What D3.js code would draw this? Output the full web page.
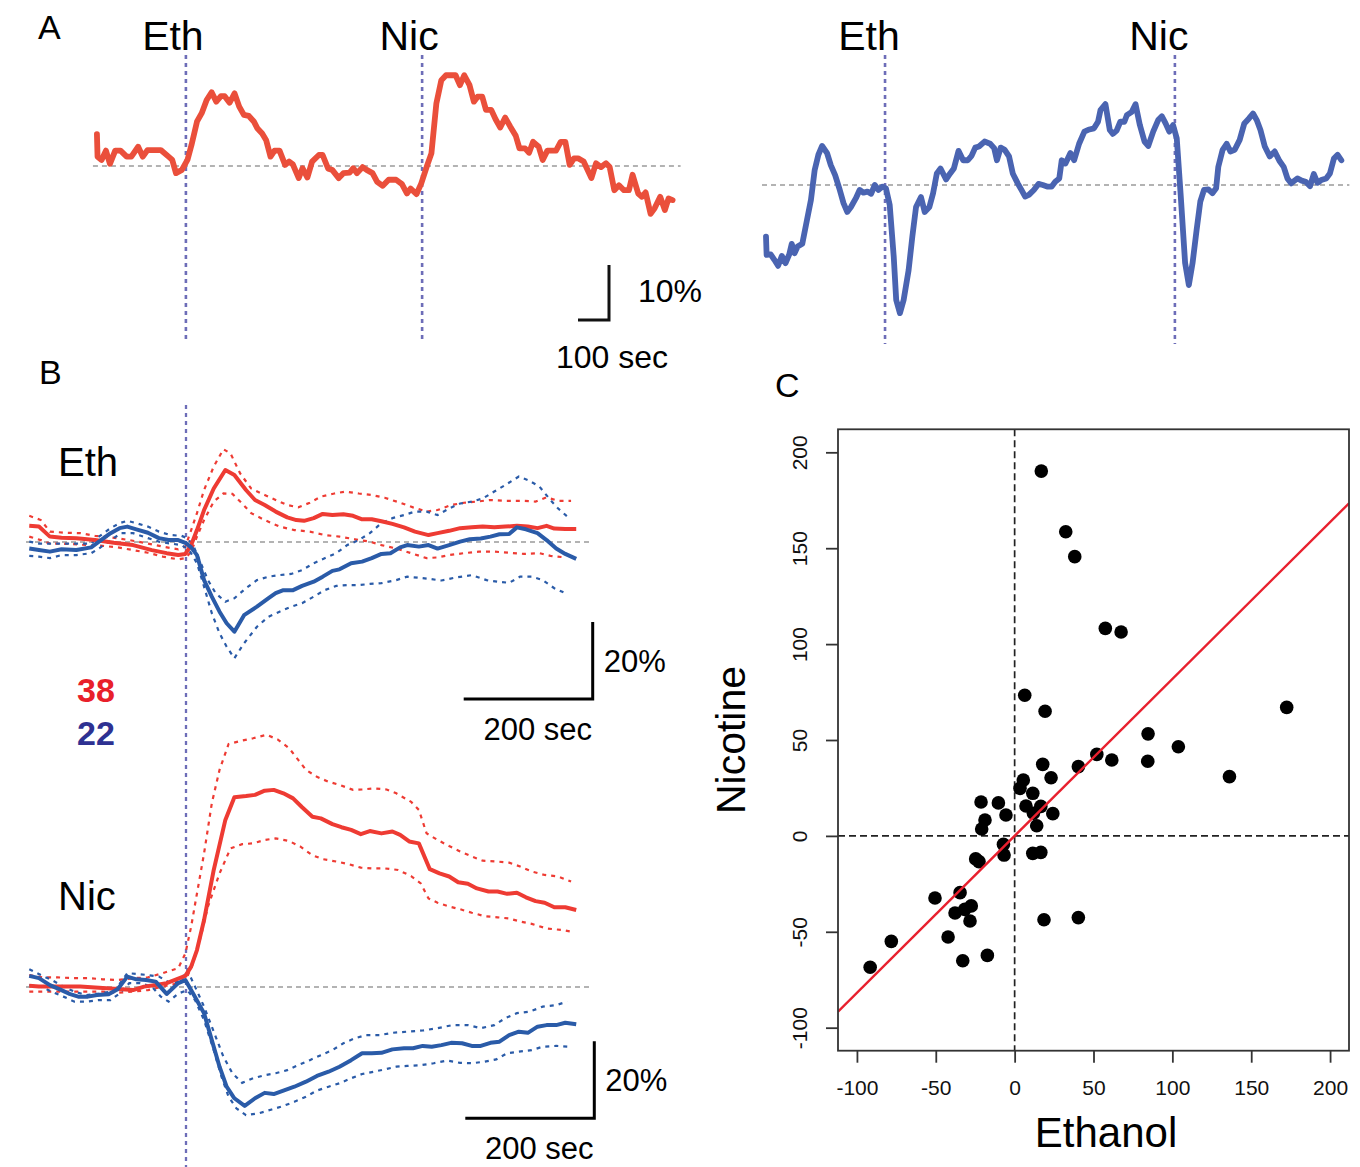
<!DOCTYPE html>
<html><head><meta charset="utf-8">
<script src="https://cdn.jsdelivr.net/npm/d3@7"></script>
<style>body{margin:0;background:#fff}svg{display:block}text{font-family:"Liberation Sans",Arial,Helvetica,sans-serif}</style>
</head><body>
<script>
// ---------- DATA ----------
// Panel A: single-cell traces, [time (s), % change]
const traceALeft = [[3,5.8],[5,1.7],[18,1.1],[32,2.8],[45,0.4],[62,2.8],[79,2.8],[99,1.7],[114,1.7],[136,3.5],[151,1.7],[166,2.9],[209,2.9],[234,1.7],[246,1.1],[258,-1.3],[277,-0.7],[295,1.1],[308,3.8],[326,8.1],[341,9.6],[357,12.0],[373,13.4],[388,11.7],[403,12.7],[415,12.7],[431,11.5],[447,13.2],[462,10.8],[477,9.3],[493,9.1],[509,8.1],[521,6.8],[536,5.9],[549,4.7],[563,1.7],[576,2.8],[592,2.8],[610,0.2],[623,0.8],[635,0.3],[654,-2.2],[666,-0.4],[682,-2.1],[697,0.8],[719,2.0],[731,2.0],[749,-0.5],[762,-0.7],[783,-2.2],[798,-1.3],[818,-1.2],[830,-0.4],[842,-1.3],[860,-0.2],[873,-0.7],[892,-1.3],[907,-2.9],[925,-3.6],[944,-2.5],[968,-2.5],[987,-3.3],[1003,-5.0],[1015,-4.1],[1034,-5.1],[1049,-3.2],[1067,-0.1],[1082,2.3],[1098,11.4],[1114,15.6],[1129,16.5],[1160,16.5],[1174,14.7],[1188,16.5],[1205,14.7],[1219,11.7],[1231,12.6],[1246,12.6],[1258,10.2],[1275,10.2],[1289,8.5],[1304,7.0],[1320,8.8],[1336,7.2],[1354,5.5],[1366,3.2],[1384,3.2],[1397,2.4],[1410,4.4],[1428,3.5],[1441,1.1],[1456,2.8],[1484,2.8],[1499,4.4],[1514,4.4],[1528,0.2],[1542,1.4],[1555,1.4],[1573,0.8],[1598,-2.2],[1613,0.5],[1629,-0.2],[1645,0.5],[1657,-0.2],[1672,-4.4],[1687,-3.5],[1703,-4.4],[1719,-4.4],[1731,-1.6],[1749,-5.0],[1761,-5.6],[1773,-4.8],[1789,-8.7],[1802,-7.7],[1820,-5.6],[1835,-8.0],[1847,-5.9],[1860,-6.2]];
const traceARight = [[0,-9.4],[2,-12.7],[15,-12.6],[27,-13.6],[39,-14.7],[51,-12.9],[63,-14.2],[75,-12.6],[83,-10.7],[92,-12.4],[102,-11.2],[117,-10.7],[132,-6.4],[145,-2.7],[157,2.7],[169,5.5],[181,7.1],[197,5.8],[209,3.6],[223,1.8],[238,-0.9],[250,-3.3],[262,-4.9],[274,-4.0],[290,-2.4],[302,-0.9],[314,-1.4],[327,-1.2],[339,-1.6],[351,0.0],[363,-0.9],[375,-0.3],[387,-0.6],[399,-3.6],[412,-13.0],[420,-20.9],[432,-23.3],[444,-20.9],[460,-15.5],[472,-9.4],[484,-4.0],[500,-2.2],[512,-4.9],[527,-4.0],[539,-1.5],[551,2.1],[563,3.0],[581,1.0],[594,2.1],[606,3.0],[621,6.2],[636,4.5],[651,4.5],[663,5.3],[675,6.8],[687,7.0],[705,7.9],[723,7.5],[736,6.7],[745,4.5],[757,6.8],[770,6.4],[784,5.2],[796,2.1],[812,0.3],[824,-0.9],[836,-2.1],[848,-1.8],[864,-0.9],[879,0.2],[893,0.0],[909,-0.3],[921,-0.3],[933,0.6],[946,1.2],[954,4.5],[966,3.9],[982,5.8],[994,4.5],[1010,7.5],[1027,9.7],[1043,10.1],[1058,10.3],[1071,11.5],[1079,13.6],[1095,14.7],[1109,10.0],[1119,9.3],[1131,9.9],[1143,11.5],[1156,11.5],[1164,12.7],[1180,13.3],[1192,14.7],[1206,10.9],[1221,7.9],[1233,7.1],[1249,9.7],[1265,11.8],[1277,12.5],[1289,11.2],[1301,9.7],[1313,10.9],[1325,8.5],[1338,-2.1],[1352,-14.2],[1364,-18.2],[1376,-14.2],[1389,-8.2],[1401,-3.0],[1413,-0.9],[1427,-0.8],[1440,-1.5],[1452,-0.6],[1459,3.3],[1473,6.4],[1486,7.5],[1498,6.1],[1512,6.4],[1528,8.2],[1543,11.2],[1558,12.1],[1571,13.0],[1583,11.8],[1595,10.0],[1609,7.0],[1625,5.2],[1641,6.1],[1656,4.4],[1670,3.3],[1682,1.2],[1694,0.3],[1714,1.2],[1728,0.8],[1741,0.6],[1755,-0.2],[1767,2.0],[1779,0.4],[1791,0.9],[1807,1.2],[1819,2.1],[1832,4.8],[1844,5.5],[1856,4.5]];
const drugLabels = ["Eth","Nic"];
const injectALeft = [290, 1052];   // s
const injectARight = [384, 1319];  // s

// Panel B: averaged responses, [time from drug (s), % change]; mean and mean±SEM
const ethRedMean = [[-243,4.2],[-228,4.0],[-211,1.4],[-193,1.1],[-170,1.0],[-141,0.5],[-112,-0.2],[-82,-0.8],[-53,-2.1],[-30,-2.9],[-12,-3.4],[-1,-3.1],[8,-0.8],[17,3.1],[28,8.3],[43,13.9],[61,18.7],[75,17.4],[93,13.5],[107,10.9],[122,9.6],[139,7.9],[157,6.4],[171,5.7],[183,5.5],[198,6.2],[212,7.3],[227,7.0],[244,7.2],[259,6.8],[273,5.9],[288,5.9],[303,5.4],[320,4.7],[338,3.8],[355,2.7],[376,1.8],[390,2.3],[408,2.9],[425,3.6],[443,3.8],[460,4.0],[478,3.8],[495,4.0],[513,4.2],[530,4.0],[545,3.6],[559,4.2],[571,3.5],[588,3.4],[605,3.4]];
const ethRedUpper = [[-243,6.8],[-225,5.7],[-211,2.7],[-187,2.4],[-164,2.3],[-141,1.6],[-117,1.2],[-88,0.5],[-59,-0.4],[-36,-1.2],[-12,-1.9],[-1,-1.2],[8,3.1],[17,7.5],[28,13.5],[43,19.6],[58,24.1],[69,23.0],[84,17.8],[101,13.9],[122,12.2],[139,10.9],[157,9.6],[174,9.0],[192,10.2],[209,11.8],[230,12.6],[247,13.1],[268,12.6],[288,12.2],[308,11.5],[332,10.2],[352,9.0],[373,7.9],[390,8.3],[411,9.6],[431,10.2],[451,10.5],[472,10.9],[495,10.7],[521,10.7],[542,10.5],[559,11.6],[577,10.7],[597,10.7]];
const ethRedLower = [[-243,1.4],[-225,0.5],[-211,-0.4],[-182,-0.5],[-152,-0.8],[-129,-1.0],[-106,-1.4],[-82,-2.1],[-59,-2.8],[-36,-3.8],[-12,-4.5],[-1,-4.2],[8,-2.5],[17,1.4],[28,5.7],[43,10.5],[58,12.6],[72,12.5],[87,10.0],[101,7.5],[122,5.7],[145,4.0],[168,3.1],[192,2.7],[215,1.8],[238,1.4],[262,0.7],[285,0.1],[303,-0.8],[326,-1.7],[349,-2.9],[373,-4.2],[390,-4.0],[408,-3.4],[431,-2.9],[454,-2.5],[478,-2.5],[501,-2.8],[524,-3.1],[548,-2.9],[565,-3.6],[588,-4.0]];
const ethBlueMean = [[-243,-1.7],[-228,-2.1],[-211,-2.5],[-193,-1.9],[-170,-2.1],[-147,-1.4],[-135,0.1],[-117,2.3],[-103,3.6],[-91,4.0],[-77,3.3],[-59,2.4],[-42,1.0],[-27,0.5],[-12,0.5],[-1,-0.2],[8,-1.4],[17,-3.4],[28,-9.9],[40,-14.2],[52,-18.1],[63,-21.1],[75,-23.3],[90,-19.0],[110,-16.8],[128,-14.6],[139,-13.3],[151,-12.5],[166,-12.5],[180,-11.4],[198,-10.3],[212,-9.0],[227,-7.5],[238,-7.1],[256,-5.5],[273,-5.1],[288,-4.2],[303,-3.1],[317,-2.9],[332,-1.4],[343,-0.8],[361,-1.2],[376,-0.8],[390,-1.7],[408,-0.8],[425,0.1],[440,0.7],[457,0.9],[472,1.4],[486,2.0],[501,2.1],[513,3.8],[527,3.3],[545,2.3],[559,0.5],[574,-1.7],[588,-3.1],[605,-4.4]];
const ethBlueUpper = [[-243,0.1],[-228,-0.4],[-211,-0.4],[-193,-0.4],[-170,-0.4],[-147,-0.4],[-135,1.4],[-117,3.6],[-103,4.9],[-91,5.5],[-77,4.9],[-59,4.0],[-42,2.7],[-24,1.8],[-7,1.6],[2,1.0],[11,-0.8],[23,-5.5],[34,-9.9],[46,-13.3],[61,-15.5],[75,-14.6],[93,-12.0],[110,-9.9],[128,-9.0],[145,-8.6],[163,-8.3],[180,-7.3],[198,-5.5],[215,-4.2],[233,-2.9],[250,-0.8],[268,0.5],[285,2.3],[303,4.9],[320,6.2],[338,7.0],[355,7.9],[373,7.9],[390,7.0],[408,8.7],[425,10.0],[443,10.5],[460,11.3],[478,13.1],[495,14.8],[516,17.0],[530,16.1],[548,14.4],[565,10.9],[577,8.7],[594,6.2]];
const ethBlueLower = [[-243,-3.6],[-228,-3.8],[-211,-4.2],[-193,-3.4],[-170,-3.4],[-147,-2.9],[-135,-1.7],[-117,0.5],[-100,2.3],[-82,2.3],[-59,1.0],[-42,0.1],[-24,-0.4],[-7,-0.8],[5,-2.1],[17,-5.5],[28,-11.6],[40,-18.5],[52,-23.7],[63,-27.2],[75,-30.2],[90,-26.3],[110,-22.0],[128,-19.4],[145,-18.1],[163,-16.8],[180,-15.9],[198,-14.2],[215,-12.5],[233,-11.4],[250,-11.2],[268,-11.2],[285,-10.9],[303,-10.7],[326,-9.9],[343,-9.0],[361,-9.3],[378,-9.6],[396,-10.0],[419,-9.2],[443,-8.6],[466,-9.9],[483,-10.3],[501,-10.6],[518,-9.0],[536,-9.0],[553,-9.9],[571,-12.0],[588,-13.3]];
const nicRedMean = [[-243,0.3],[-228,0.1],[-211,0.1],[-187,0.1],[-164,0.1],[-141,-0.1],[-117,-0.4],[-100,-0.6],[-82,-0.8],[-65,0.1],[-47,0.5],[-30,1.0],[-15,2.0],[-1,2.9],[8,5.3],[17,9.6],[28,17.4],[43,30.4],[61,43.4],[75,49.3],[93,49.6],[107,49.9],[122,51.0],[136,51.2],[151,50.3],[166,49.0],[180,46.7],[196,44.2],[209,43.8],[227,42.3],[241,41.5],[256,40.8],[271,39.7],[285,40.5],[303,39.9],[320,40.4],[332,39.5],[346,37.8],[361,37.3],[378,30.6],[393,29.5],[408,28.7],[422,27.2],[437,26.8],[451,25.6],[469,24.8],[483,24.8],[498,24.2],[513,24.5],[527,23.3],[542,22.3],[556,21.9],[571,20.7],[588,20.7],[605,20.0]];
const nicRedUpper = [[-243,3.1],[-222,2.5],[-199,2.5],[-176,2.3],[-152,2.3],[-129,2.0],[-106,1.8],[-82,2.3],[-59,2.5],[-36,3.6],[-12,4.9],[-1,8.7],[8,15.7],[17,24.3],[28,34.7],[40,47.7],[52,56.4],[66,63.1],[87,64.0],[104,64.6],[125,65.5],[142,64.3],[160,62.0],[174,59.0],[186,56.4],[203,54.6],[221,53.3],[238,52.5],[259,51.2],[273,51.3],[291,51.6],[311,51.3],[326,50.3],[349,48.1],[361,46.0],[373,39.9],[390,38.2],[408,36.6],[425,35.2],[443,33.9],[460,32.8],[481,32.6],[501,32.3],[518,31.3],[536,30.0],[556,29.1],[577,28.7],[597,27.4]];
const nicRedLower = [[-243,-1.2],[-225,-1.2],[-199,-1.2],[-176,-1.2],[-152,-1.2],[-129,-1.2],[-106,-1.5],[-82,-1.2],[-59,-0.8],[-36,0.1],[-12,1.0],[2,2.7],[11,6.2],[23,13.1],[34,20.9],[52,29.5],[69,36.0],[87,37.1],[104,37.3],[122,38.2],[139,38.6],[160,37.9],[177,36.5],[195,34.3],[212,33.2],[233,32.6],[250,32.0],[271,31.0],[288,30.8],[308,30.8],[329,30.4],[349,28.8],[364,26.9],[376,23.0],[390,21.9],[408,20.9],[425,20.2],[443,19.3],[463,18.4],[483,18.1],[501,17.8],[518,17.0],[536,16.4],[559,15.2],[583,14.8],[597,14.4]];
const nicBlueMean = [[-243,2.9],[-228,2.3],[-211,0.5],[-193,-0.8],[-182,-1.7],[-167,-2.5],[-152,-2.5],[-138,-2.1],[-120,-1.9],[-106,-0.6],[-91,2.7],[-77,2.0],[-62,1.8],[-47,1.4],[-30,-1.8],[-12,1.0],[-1,1.8],[11,-1.7],[28,-6.8],[40,-13.8],[52,-20.7],[63,-25.9],[75,-28.9],[91,-30.9],[107,-28.9],[122,-27.5],[136,-27.8],[151,-26.9],[168,-25.9],[186,-24.6],[203,-23.1],[221,-22.0],[238,-20.7],[256,-19.0],[273,-17.2],[288,-17.2],[303,-17.1],[320,-16.2],[338,-15.9],[352,-15.9],[367,-15.3],[381,-15.5],[396,-15.1],[411,-14.5],[428,-14.6],[443,-15.3],[457,-15.3],[472,-14.5],[486,-14.2],[501,-12.5],[516,-11.6],[530,-11.9],[545,-10.3],[559,-9.9],[574,-9.9],[588,-9.3],[605,-9.7]];
const nicBlueUpper = [[-243,4.6],[-225,3.1],[-208,1.8],[-190,0.1],[-173,-1.2],[-155,-2.1],[-135,-1.7],[-117,-1.2],[-106,0.1],[-91,3.6],[-77,3.4],[-59,3.1],[-42,2.7],[-24,1.0],[-10,1.4],[2,4.4],[14,0.1],[28,-5.1],[43,-11.6],[58,-18.1],[72,-22.4],[87,-24.9],[104,-23.7],[122,-22.9],[139,-22.4],[157,-21.6],[174,-20.3],[192,-19.0],[209,-17.7],[227,-16.4],[244,-14.6],[262,-13.3],[279,-12.5],[300,-12.5],[320,-11.9],[343,-11.6],[367,-11.3],[390,-10.7],[413,-9.9],[437,-9.9],[457,-10.7],[478,-9.9],[495,-8.1],[513,-6.8],[533,-6.4],[553,-5.1],[574,-4.7],[591,-3.8]];
const nicBlueLower = [[-243,0.5],[-225,0.1],[-208,-1.2],[-190,-2.5],[-173,-3.8],[-155,-3.8],[-135,-3.4],[-117,-3.4],[-103,-1.7],[-88,1.0],[-71,1.0],[-53,0.1],[-39,-2.5],[-27,-3.8],[-12,-1.7],[2,-0.8],[14,-3.4],[28,-8.6],[43,-16.4],[55,-23.3],[66,-28.5],[78,-31.5],[93,-33.3],[113,-32.8],[133,-31.8],[151,-30.9],[168,-29.8],[186,-28.5],[203,-26.9],[221,-25.9],[238,-25.0],[256,-23.7],[273,-22.6],[291,-22.0],[308,-21.4],[326,-20.7],[343,-20.5],[364,-20.3],[384,-19.8],[405,-19.1],[425,-19.7],[443,-19.8],[463,-19.4],[481,-18.8],[498,-17.2],[516,-16.8],[536,-16.4],[553,-15.5],[574,-15.3],[594,-15.5]];
const cellCounts = ["38","22"];

// Panel C: per-cell responses [Ethanol, Nicotine]
const scatterPoints = [[16.9,190.2],[32.4,158.6],[38.1,145.6],[57.5,108.2],[67.5,106.3],[6.4,73.3],[19.3,65.0],[172.5,67.0],[84.6,53.2],[103.8,46.5],[52.1,42.5],[61.6,39.6],[84.4,38.9],[136.2,30.9],[17.8,37.3],[40.4,36.1],[23.1,30.3],[5.5,29.1],[3.4,24.8],[11.5,22.2],[-21.3,17.7],[-10.3,17.2],[7.2,15.6],[16.6,15.4],[-5.5,10.9],[11.9,11.8],[24.2,11.6],[-18.8,8.3],[-20.9,3.6],[14.0,5.3],[-7.1,-4.4],[-6.7,-10.0],[11.5,-9.1],[16.6,-8.6],[-24.7,-12.0],[-22.6,-13.4],[-34.6,-29.6],[-50.5,-32.4],[-27.5,-36.5],[-31.6,-38.3],[-37.8,-40.2],[-28.3,-44.4],[18.6,-43.7],[40.4,-42.6],[-42.2,-52.7],[-78.2,-55.0],[-91.6,-68.5],[-17.3,-62.3],[-32.9,-65.1]];
const fitIntercept = 0.0, fitSlope = 0.818;
const cTicks = [-100,-50,0,50,100,150,200];

// ---------- DRAW ----------
const svg = d3.select("body").append("svg").attr("width",1360).attr("height",1167);
const RED_A="#ea4f3b", BLUE_A="#4a64b1", RED="#ee3b33", BLUE="#2a5ba8", INJ="#6d6db8", GREY="#b3b3b3";

function txt(x,y,s,size,opts={}){
  const t = svg.append("text").attr("x",x).attr("y",y).text(s).attr("font-size",size)
    .attr("fill",opts.fill||"#000").attr("text-anchor",opts.anchor||"start");
  if(opts.weight) t.attr("font-weight",opts.weight);
  if(opts.rotate!=null) t.attr("transform",`rotate(${opts.rotate},${x},${y})`);
  return t;
}
function hline(x1,x2,y,color,w,dash){svg.append("line").attr("x1",x1).attr("x2",x2).attr("y1",y).attr("y2",y).attr("stroke",color).attr("stroke-width",w).attr("stroke-dasharray",dash||null);}
function vline(x,y1,y2,color,w,dash){svg.append("line").attr("x1",x).attr("x2",x).attr("y1",y1).attr("y2",y2).attr("stroke",color).attr("stroke-width",w).attr("stroke-dasharray",dash||null);}

// Panel labels
txt(38,39,"A",34); txt(39,384,"B",34); txt(775,397,"C",34);

// ----- Panel A -----
const panelsA = [
  {trace:traceALeft, inj:injectALeft, x:d3.scaleLinear().domain([0,100]).range([96,127]), y:d3.scaleLinear().domain([0,10]).range([166,111]), color:RED_A, vTop:55, vBot:341, dx:-13},
  {trace:traceARight, inj:injectARight, x:d3.scaleLinear().domain([0,100]).range([766,797]), y:d3.scaleLinear().domain([0,10]).range([185,130]), color:BLUE_A, vTop:55, vBot:344, dx:-16}
];
panelsA.forEach(p=>{
  const tExt = d3.extent(p.trace,d=>d[0]);
  hline(p.x(tExt[0])-4, p.x(tExt[1])+8, p.y(0), GREY, 2, "5,4");
  p.inj.forEach((t,i)=>{
    vline(p.x(t), p.vTop, p.vBot, INJ, 2.6, "4,4");
    txt(p.x(t)+p.dx, 50, drugLabels[i], 41, {anchor:"middle"});
  });
  svg.append("path").datum(p.trace)
    .attr("d", d3.line().x(d=>p.x(d[0])).y(d=>p.y(d[1])))
    .attr("fill","none").attr("stroke",p.color).attr("stroke-width",5.8)
    .attr("stroke-linejoin","round").attr("stroke-linecap","round");
});
// scale bar A
{
  const p = panelsA[0];
  const cx = 609, cy = 320;
  const w = p.x(100)-p.x(0), h = p.y(0)-p.y(10);
  svg.append("path").attr("d",`M${cx-w},${cy}H${cx}V${cy-h}`).attr("fill","none").attr("stroke","#111").attr("stroke-width",3);
  txt(638, 302, "10%", 32);
  txt(612, 368, "100 sec", 32, {anchor:"middle"});
}

// ----- Panel B -----
const xB = d3.scaleLinear().domain([0,200]).range([186,315]);
const subB = [
  {y:d3.scaleLinear().domain([0,20]).range([542,465]), red:[ethRedMean,ethRedUpper,ethRedLower], blue:[ethBlueMean,ethBlueUpper,ethBlueLower], label:"Eth", ly:476, bar:[592.7,699]},
  {y:d3.scaleLinear().domain([0,20]).range([987,910]), red:[nicRedMean,nicRedUpper,nicRedLower], blue:[nicBlueMean,nicBlueUpper,nicBlueLower], label:"Nic", ly:910, bar:[594.3,1118.3]}
];
vline(xB(0), 405, 1167, INJ, 2.3, "4,4");
subB.forEach(s=>{
  hline(26, 592, s.y(0), GREY, 2, "5,4");
  const line = d3.line().x(d=>xB(d[0])).y(d=>s.y(d[1]));
  [[s.red,RED],[s.blue,BLUE]].forEach(([set,col])=>{
    [set[1],set[2]].forEach(band=>{
      svg.append("path").datum(band).attr("d",line).attr("fill","none")
        .attr("stroke",col).attr("stroke-width",2.2).attr("stroke-dasharray","4,5");
    });
  });
  [[s.red,RED],[s.blue,BLUE]].forEach(([set,col])=>{
    svg.append("path").datum(set[0]).attr("d",line).attr("fill","none")
      .attr("stroke",col).attr("stroke-width",4).attr("stroke-linejoin","round");
  });
  txt(58, s.ly, s.label, 40);
  const [cx,cy] = s.bar;
  const w = xB(200)-xB(0), h = s.y(0)-s.y(20);
  svg.append("path").attr("d",`M${cx-w},${cy}H${cx}V${cy-h}`).attr("fill","none").attr("stroke","#000").attr("stroke-width",3);
  txt(cx+11, cy-27, "20%", 31);
  txt(cx-55, cy+41, "200 sec", 31, {anchor:"middle"});
});
txt(96, 702, cellCounts[0], 34, {anchor:"middle", weight:"bold", fill:"#e8202a"});
txt(96, 745, cellCounts[1], 34, {anchor:"middle", weight:"bold", fill:"#2e3192"});

// ----- Panel C -----
const xC = d3.scaleLinear().domain([-112,212]).range([838,1349]);
const yC = d3.scaleLinear().domain([-112,212]).range([1050.7,429.3]);
const clipId="clipC";
svg.append("clipPath").attr("id",clipId).append("rect")
  .attr("x",xC.range()[0]).attr("y",yC.range()[1]).attr("width",xC.range()[1]-xC.range()[0]).attr("height",yC.range()[0]-yC.range()[1]);
const gC = svg.append("g").attr("clip-path",`url(#${clipId})`);
gC.append("line").attr("x1",xC(0)).attr("x2",xC(0)).attr("y1",yC.range()[1]).attr("y2",yC.range()[0])
  .attr("stroke","#222").attr("stroke-width",1.7).attr("stroke-dasharray","7,4");
gC.append("line").attr("x1",xC.range()[0]).attr("x2",xC.range()[1]).attr("y1",yC(0)).attr("y2",yC(0))
  .attr("stroke","#222").attr("stroke-width",1.7).attr("stroke-dasharray","7,4");
gC.selectAll("circle").data(scatterPoints).join("circle")
  .attr("cx",d=>xC(d[0])).attr("cy",d=>yC(d[1])).attr("r",6.8).attr("fill","#000");
const xd = xC.domain();
gC.append("line").attr("x1",xC(xd[0])).attr("x2",xC(xd[1]))
  .attr("y1",yC(fitIntercept+fitSlope*xd[0])).attr("y2",yC(fitIntercept+fitSlope*xd[1]))
  .attr("stroke","#e8202e").attr("stroke-width",2.4);
svg.append("rect").attr("x",xC.range()[0]).attr("y",yC.range()[1])
  .attr("width",xC.range()[1]-xC.range()[0]).attr("height",yC.range()[0]-yC.range()[1])
  .attr("fill","none").attr("stroke","#333").attr("stroke-width",1.8);
// axes
const fmt = d => String(d);
const xAxis = d3.axisBottom(xC).tickValues(cTicks).tickSize(12).tickPadding(17).tickFormat(fmt);
const gx = svg.append("g").attr("transform",`translate(0,${yC.range()[0]})`).call(xAxis);
gx.select(".domain").remove();
gx.selectAll(".tick line").attr("stroke","#333").attr("stroke-width",1.8);
gx.selectAll(".tick text").attr("font-size",21).attr("fill","#111").attr("font-family","Liberation Sans, Arial, sans-serif");
const yAxis = d3.axisLeft(yC).tickValues(cTicks).tickSize(12).tickPadding(0).tickFormat(fmt);
const gy = svg.append("g").attr("transform",`translate(${xC.range()[0]},0)`).call(yAxis);
gy.select(".domain").remove();
gy.selectAll(".tick line").attr("stroke","#333").attr("stroke-width",1.8);
gy.selectAll(".tick text").attr("font-size",21).attr("fill","#111").attr("font-family","Liberation Sans, Arial, sans-serif")
  .attr("x",-31).attr("dy",0).attr("text-anchor","middle").attr("transform","rotate(-90,-31,0)");
txt(1106, 1147, "Ethanol", 42, {anchor:"middle"});
txt(745, 740, "Nicotine", 41, {anchor:"middle", rotate:-90});
</script>
</body></html>
